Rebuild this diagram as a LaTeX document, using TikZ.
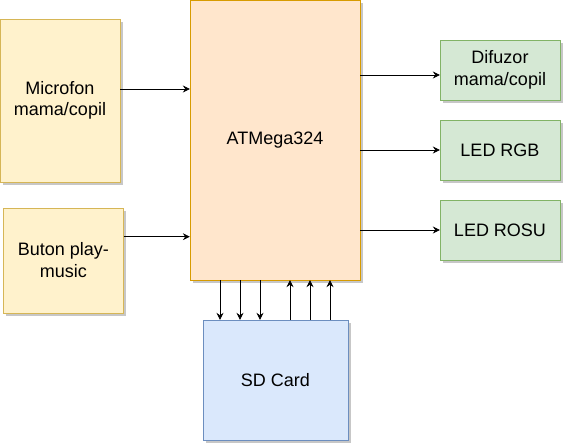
\documentclass[tikz,border=0pt]{standalone}
\usepackage{fontspec}
\setmainfont{Liberation Sans}
\usepackage{tikz}
\usetikzlibrary{arrows.meta, shadows, calc}
\usepackage{xcolor}
\definecolor{galbenFill}{HTML}{FFF2CC}
\definecolor{galbenDraw}{HTML}{D6B656}
\definecolor{portoFill}{HTML}{FFE6CC}
\definecolor{portoDraw}{HTML}{D79B00}
\definecolor{verdeFill}{HTML}{D5E8D4}
\definecolor{verdeDraw}{HTML}{82B366}
\definecolor{albastruFill}{HTML}{DAE8FC}
\definecolor{albastruDraw}{HTML}{6C8EBF}
\tikzset{
    bloc/.style = {draw, rectangle, align = center, inner sep = 0pt,
        font = \fontsize{18}{21.6}\selectfont,
        drop shadow = {shadow xshift = 3pt, shadow yshift = -3pt, fill = black, opacity = 0.22}},
    sageata/.style = {-{Stealth[length = 7pt, width = 7pt, inset = 2.5pt]}, semithick}
}

\begin{document}
\begin{tikzpicture}[x = 1pt, y = -1pt]
    % Cadru
    \useasboundingbox (0,0) rectangle (563,444);
    % Blocuri
    \node[bloc, fill = galbenFill, draw = galbenDraw, minimum width = 120pt, minimum height = 163pt] (mic) at (60,100.5) {Microfon\\mama/copil};
    \node[bloc, fill = galbenFill, draw = galbenDraw, minimum width = 120pt, minimum height = 105pt] (buton) at (63.3,260.3) {Buton play-\\music};
    \node[bloc, fill = portoFill, draw = portoDraw, minimum width = 170pt, minimum height = 280pt] (atm) at (275,140) {ATMega324};
    \node[bloc, fill = albastruFill, draw = albastruDraw, minimum width = 145pt, minimum height = 120pt] (sd) at (275.5,380) {SD Card};
    \node[bloc, fill = verdeFill, draw = verdeDraw, minimum width = 120pt, minimum height = 60pt] (difuzor) at (500,70) {Difuzor\\mama/copil};
    \node[bloc, fill = verdeFill, draw = verdeDraw, minimum width = 120pt, minimum height = 60pt] (rgb) at (500,150) {LED RGB};
    \node[bloc, fill = verdeFill, draw = verdeDraw, minimum width = 120pt, minimum height = 60pt] (rosu) at (500,230) {LED ROSU};
    % Intrari
    \draw[sageata] ([yshift = 11.5pt]mic.east) -- ([yshift = 11.5pt]mic.east -| atm.west);
    \draw[sageata] ([yshift = 23.6pt]buton.east) -- ([yshift = 23.6pt]buton.east -| atm.west);
    % Iesiri
    \draw[sageata] ([yshift = -5pt]difuzor.west -| atm.east) -- ([yshift = -5pt]difuzor.west);
    \draw[sageata] (rgb.west -| atm.east) -- (rgb.west);
    \draw[sageata] (rosu.west -| atm.east) -- (rosu.west);
    % Legaturi cu cardul SD
    \foreach \x in {220,240,260}
        \draw[sageata] (atm.south -| \x,0) -- (sd.north -| \x,0);
    \foreach \x in {290,310,330}
        \draw[sageata] (sd.north -| \x,0) -- (atm.south -| \x,0);
\end{tikzpicture}
\end{document}
